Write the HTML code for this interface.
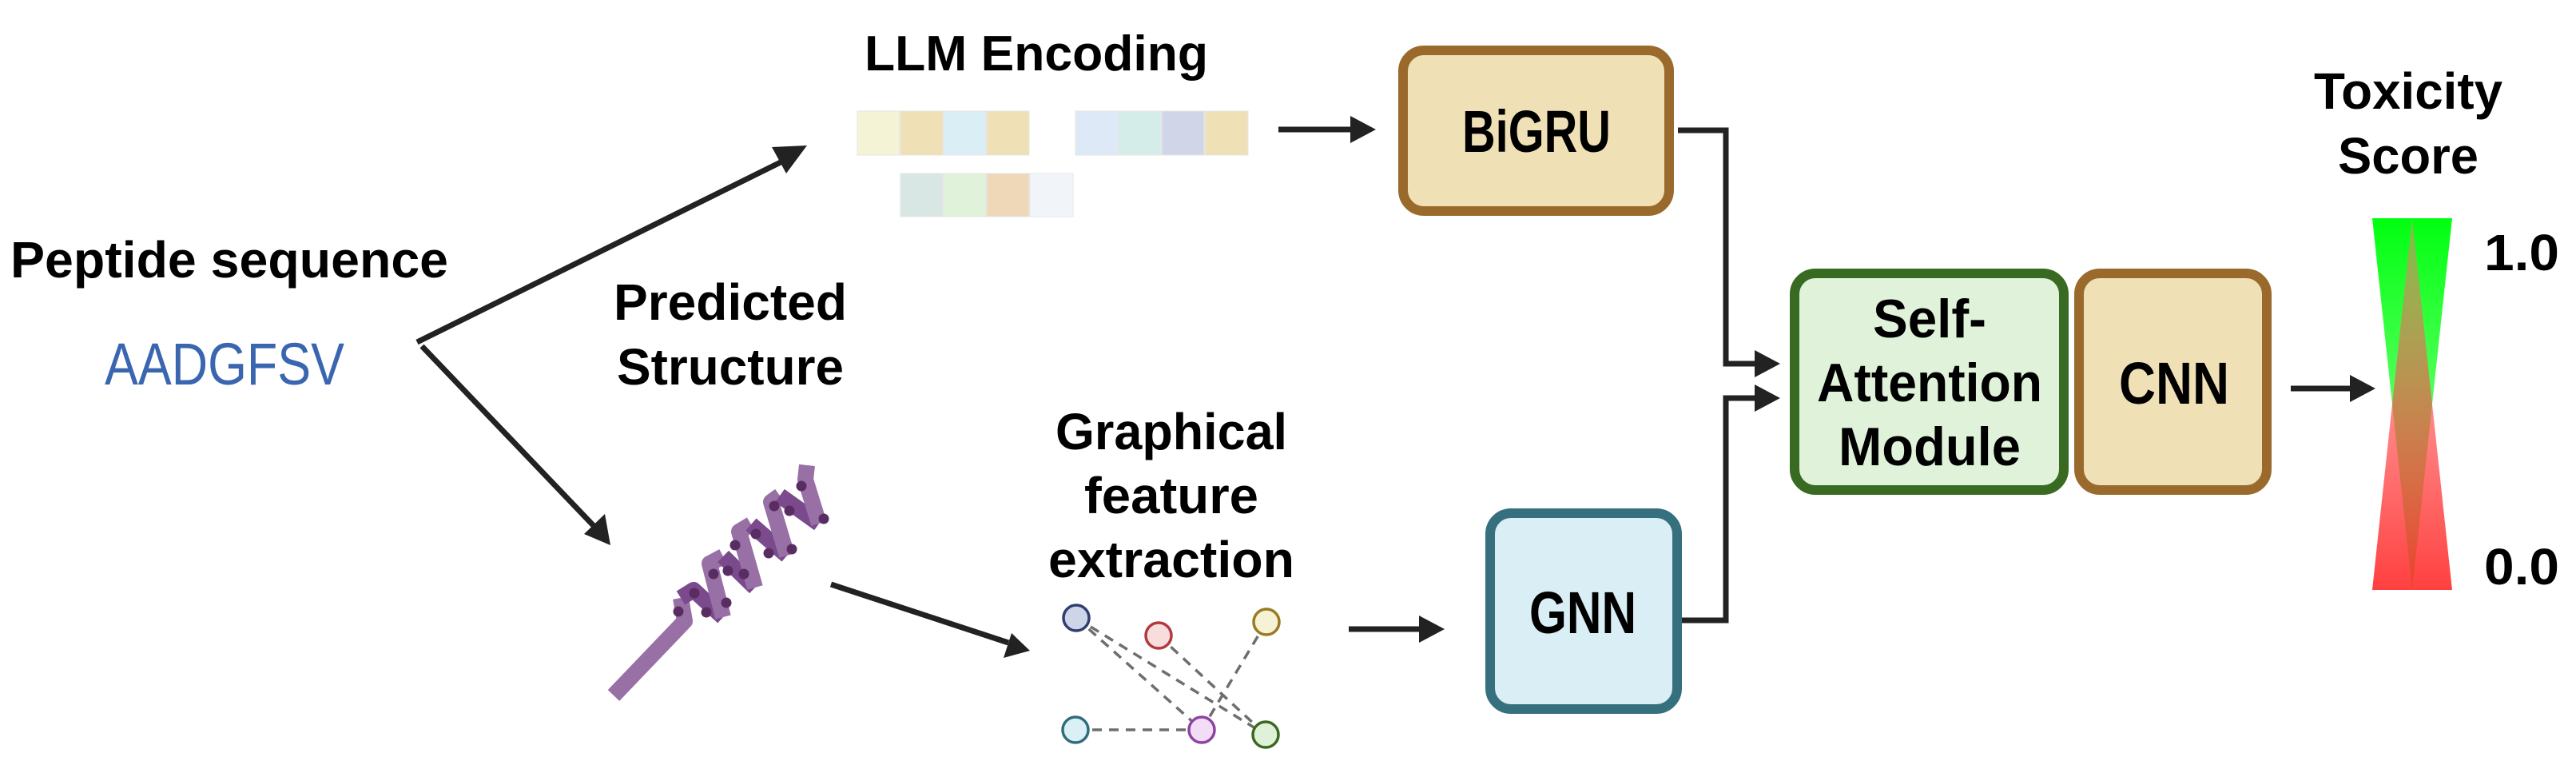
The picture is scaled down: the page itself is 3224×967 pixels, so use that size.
<!DOCTYPE html>
<html><head><meta charset="utf-8"><style>
html,body{margin:0;padding:0;background:#fff;}
svg{display:block;}
text{font-family:"Liberation Sans",sans-serif;}
</style></head><body>
<svg width="3224" height="967" viewBox="0 0 3224 967" xmlns="http://www.w3.org/2000/svg">
<defs>
<linearGradient id="gg" x1="0" y1="0" x2="0" y2="1">
<stop offset="0" stop-color="#00ff10"/><stop offset="1" stop-color="#7aff7a" stop-opacity="0.75"/>
</linearGradient>
<linearGradient id="rg" x1="0" y1="1" x2="0" y2="0">
<stop offset="0" stop-color="#ff1010"/><stop offset="1" stop-color="#ff8080" stop-opacity="0.6"/>
</linearGradient>
</defs>

<text x="1297" y="88" font-size="62" font-weight="bold" text-anchor="middle" textLength="430" lengthAdjust="spacingAndGlyphs">LLM Encoding</text>
<text x="287" y="347" font-size="64" font-weight="bold" text-anchor="middle" textLength="548" lengthAdjust="spacingAndGlyphs">Peptide sequence</text>
<text x="281" y="481" font-size="74" fill="#3a66b0" text-anchor="middle" textLength="300" lengthAdjust="spacingAndGlyphs">AADGFSV</text>
<text x="914" y="400" font-size="64" font-weight="bold" text-anchor="middle" textLength="292" lengthAdjust="spacingAndGlyphs">Predicted</text>
<text x="914" y="481" font-size="64" font-weight="bold" text-anchor="middle" textLength="284" lengthAdjust="spacingAndGlyphs">Structure</text>
<text x="1466" y="562" font-size="64" font-weight="bold" text-anchor="middle" textLength="290" lengthAdjust="spacingAndGlyphs">Graphical</text>
<text x="1466" y="642" font-size="64" font-weight="bold" text-anchor="middle" textLength="218" lengthAdjust="spacingAndGlyphs">feature</text>
<text x="1466" y="722" font-size="64" font-weight="bold" text-anchor="middle" textLength="308" lengthAdjust="spacingAndGlyphs">extraction</text>
<text x="3014" y="136" font-size="64" font-weight="bold" text-anchor="middle" textLength="236" lengthAdjust="spacingAndGlyphs">Toxicity</text>
<text x="3014" y="217" font-size="64" font-weight="bold" text-anchor="middle" textLength="176" lengthAdjust="spacingAndGlyphs">Score</text>
<text x="3156" y="338" font-size="64" font-weight="bold" text-anchor="middle" textLength="94" lengthAdjust="spacingAndGlyphs">1.0</text>
<text x="3156" y="731" font-size="64" font-weight="bold" text-anchor="middle" textLength="94" lengthAdjust="spacingAndGlyphs">0.0</text>

<g stroke="#e6e6e6" stroke-width="1">
<rect x="1073" y="139" width="53" height="55" fill="#f5f3d6"/>
<rect x="1127" y="139" width="53" height="55" fill="#f0e0b6"/>
<rect x="1181" y="139" width="53" height="55" fill="#daeff5"/>
<rect x="1235" y="139" width="53" height="55" fill="#f0e0b6"/>
<rect x="1346" y="139" width="53" height="55" fill="#dde9f7"/>
<rect x="1400" y="139" width="53" height="55" fill="#d4ede9"/>
<rect x="1454" y="139" width="53" height="55" fill="#d0d6e8"/>
<rect x="1508" y="139" width="54" height="55" fill="#f0e0b6"/>
<rect x="1127" y="217" width="53" height="54" fill="#d8e7e4"/>
<rect x="1181" y="217" width="53" height="54" fill="#e0f3da"/>
<rect x="1235" y="217" width="53" height="54" fill="#eed8b8"/>
<rect x="1289" y="217" width="54" height="54" fill="#f1f5fa"/>
</g>

<g stroke="#222" stroke-width="7" fill="none">
<line x1="522" y1="428" x2="985" y2="199"/>
<line x1="528" y1="433" x2="748" y2="663"/>
<line x1="1040" y1="731" x2="1262" y2="804"/>
<line x1="1600" y1="162" x2="1695" y2="162"/>
<line x1="1688" y1="787" x2="1780" y2="787"/>
<polyline points="2100,163 2160,163 2160,455 2200,455"/>
<polyline points="2105,776 2160,776 2160,498 2200,498"/>
<line x1="2867" y1="486" x2="2945" y2="486"/>
</g>
<g fill="#222">
<polygon points="1010,182 984,217 966,184"/>
<polygon points="764,682 731,668 757,643"/>
<polygon points="1289,814 1256,823 1266,792"/>
<polygon points="1722,162 1690,145 1690,179"/>
<polygon points="1808,787 1776,770 1776,804"/>
<polygon points="2228,455 2196,438 2196,472"/>
<polygon points="2228,498 2196,481 2196,515"/>
<polygon points="2973,486 2941,469 2941,503"/>
</g>

<g fill="none" stroke-linecap="butt" stroke-linejoin="round">
<polyline points="768,870 857,777 852,748" stroke="#9870a6" stroke-width="20"/>
<polyline points="852,748 868,738 905,772" stroke="#7a4a8c" stroke-width="20"/>
<polyline points="905,772 888,705 905,696" stroke="#9870a6" stroke-width="20"/>
<polyline points="905,696 945,735" stroke="#7a4a8c" stroke-width="20"/>
<polyline points="945,735 925,665 940,656" stroke="#9870a6" stroke-width="20"/>
<polyline points="940,656 985,695" stroke="#7a4a8c" stroke-width="20"/>
<polyline points="985,695 965,628 976,620" stroke="#9870a6" stroke-width="20"/>
<polyline points="976,620 1025,655" stroke="#7a4a8c" stroke-width="20"/>
<polyline points="1025,655 1008,600 1010,582" stroke="#9870a6" stroke-width="20"/>
</g>
<g fill="#5a2d62">
<circle cx="849" cy="765" r="6.5"/><circle cx="869" cy="742" r="6.5"/><circle cx="884" cy="766" r="6.5"/>
<circle cx="909" cy="754" r="6.5"/><circle cx="893" cy="718" r="6.5"/><circle cx="911" cy="714" r="6.5"/>
<circle cx="931" cy="718" r="6.5"/><circle cx="920" cy="682" r="6.5"/><circle cx="946" cy="668" r="6.5"/>
<circle cx="962" cy="692" r="6.5"/><circle cx="991" cy="687" r="6.5"/><circle cx="969" cy="633" r="6.5"/>
<circle cx="988" cy="639" r="6.5"/><circle cx="1031" cy="649" r="6.5"/><circle cx="1003" cy="608" r="6.5"/>
</g>

<g stroke="#6e6e6e" stroke-width="3.5" stroke-dasharray="12,9" fill="none">
<line x1="1347" y1="773" x2="1504" y2="913"/>
<line x1="1347" y1="773" x2="1584" y2="919"/>
<line x1="1450" y1="795" x2="1584" y2="919"/>
<line x1="1585" y1="778" x2="1504" y2="913"/>
<line x1="1346" y1="913" x2="1504" y2="913"/>
</g>
<g stroke-width="3.5">
<circle cx="1347" cy="773" r="16" fill="#cfd5e8" stroke="#2f3f6e"/>
<circle cx="1450" cy="795" r="16" fill="#f8dddd" stroke="#b03a40"/>
<circle cx="1585" cy="778" r="16" fill="#f5f2d5" stroke="#9a7a22"/>
<circle cx="1346" cy="913" r="16" fill="#daf0f5" stroke="#2f6d7d"/>
<circle cx="1504" cy="913" r="16" fill="#f2dcf6" stroke="#8e44a0"/>
<circle cx="1584" cy="919" r="16" fill="#dff2d8" stroke="#3a6a22"/>
</g>

<rect x="1756" y="63" width="333" height="201" rx="26" fill="#f0e0b6" stroke="#9a6a2c" stroke-width="12"/>
<text x="1923" y="190" font-size="74" font-weight="bold" text-anchor="middle" textLength="186" lengthAdjust="spacingAndGlyphs">BiGRU</text>
<rect x="1865" y="642" width="234" height="245" rx="26" fill="#daeef5" stroke="#36707f" stroke-width="12"/>
<text x="1981" y="792" font-size="74" font-weight="bold" text-anchor="middle" textLength="134" lengthAdjust="spacingAndGlyphs">GNN</text>
<rect x="2246" y="342" width="337" height="271" rx="26" fill="#e0f3da" stroke="#386a22" stroke-width="12"/>
<text x="2415" y="422" font-size="68" font-weight="bold" text-anchor="middle" textLength="142" lengthAdjust="spacingAndGlyphs">Self-</text>
<text x="2415" y="502" font-size="68" font-weight="bold" text-anchor="middle" textLength="282" lengthAdjust="spacingAndGlyphs">Attention</text>
<text x="2415" y="582" font-size="68" font-weight="bold" text-anchor="middle" textLength="228" lengthAdjust="spacingAndGlyphs">Module</text>
<rect x="2602" y="342" width="235" height="271" rx="26" fill="#f0e0b6" stroke="#9a6a2c" stroke-width="12"/>
<text x="2721" y="505" font-size="74" font-weight="bold" text-anchor="middle" textLength="138" lengthAdjust="spacingAndGlyphs">CNN</text>

<polygon points="2969,273 3069,273 3019,738" fill="url(#gg)"/>
<polygon points="2969,738 3069,738 3019,273" fill="url(#rg)" opacity="0.8"/>
</svg>
</body></html>
